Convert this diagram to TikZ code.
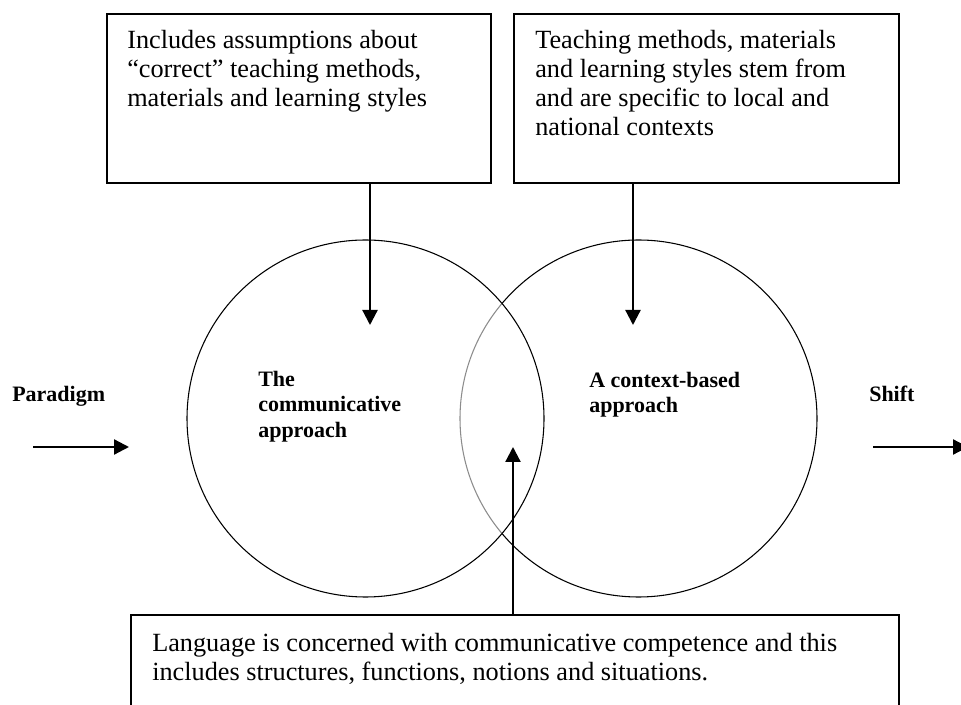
\documentclass[tikz,border=0pt]{standalone}
\usepackage{fontspec}
\setmainfont{Liberation Serif}
\usetikzlibrary{arrows.meta}

\tikzset{
  notebox/.style={draw, line width=1.7pt, inner sep=0pt, anchor=north west},
  notetext/.style={align=left, inner sep=0pt, anchor=north west,
    font=\fontsize{19.7}{21.75}\selectfont},
  ring/.style={circle, draw, line width=0.8pt, inner sep=0pt, minimum size=267.75pt},
  tag/.style={align=left, inner sep=0pt, font=\fontsize{16.5}{19.1}\selectfont\bfseries},
  link/.style={line width=1.7pt, -{Triangle[length=11.25pt,width=11.25pt]}},
}

\begin{document}
\begin{tikzpicture}[x=0.75pt, y=-0.75pt]
	\useasboundingbox (0,0) rectangle (961,705);

	\node[ring] (ctx) at (638.5,418.5) {};
	\node[ring, fill=white, fill opacity=0.55] (comm) at (365.5,418.5) {};

	\node[notebox, minimum width=288pt, minimum height=126.75pt] (assume) at (106,13) {};
	\node[notebox, minimum width=288.75pt, minimum height=126.75pt] (local) at (513,13) {};
	\node[notebox, minimum width=576pt, minimum height=90pt] (lang) at (130,614) {};

	\node[notetext] (assume text) at (127,30) {Includes assumptions about\\“correct” teaching methods,\\materials and learning styles};
	\node[notetext] (local text) at (535,30) {Teaching methods, materials\\and learning styles stem from\\and are specific to local and\\national contexts};
	\node[notetext] (lang text) at (152,633) {Language is concerned with communicative competence and this\\includes structures, functions, notions and situations.};

	\node[tag, anchor=north west] (comm label) at (258,371) {The\\communicative\\approach};
	\node[tag, anchor=north west] (ctx label) at (589,372) {A context-based\\approach};
	\node[tag, anchor=base west] (paradigm) at (12,402) {Paradigm};
	\node[tag, anchor=base west] (shift) at (869,402) {Shift};

	\coordinate (assume tip) at (370,325);
	\coordinate (local tip) at (633,325);
	\coordinate (lang tip) at (513,447);
	\coordinate (paradigm start) at (33,447);
	\coordinate (paradigm end) at (129,447);
	\coordinate (shift start) at (873,447);
	\coordinate (shift end) at (968,447);

	\draw[link] (assume.south -| assume tip) -- (assume tip);
	\draw[link] (local.south -| local tip) -- (local tip);
	\draw[link] (lang.north -| lang tip) -- (lang tip);
	\draw[link] (paradigm start) -- (paradigm end);
	\draw[link] (shift start) -- (shift end);
\end{tikzpicture}
\end{document}
